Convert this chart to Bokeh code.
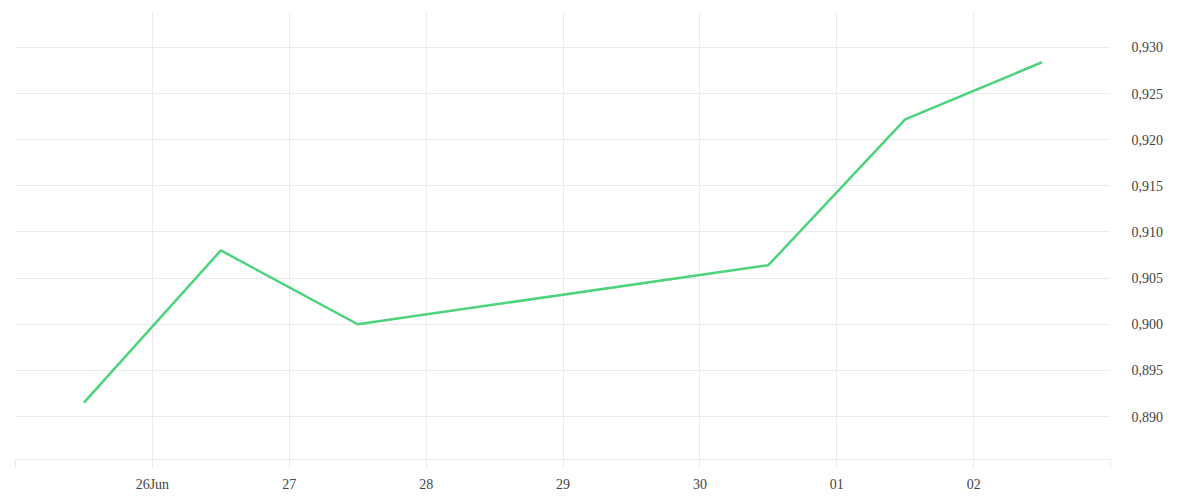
from datetime import datetime
from bokeh.plotting import figure
from bokeh.models import FixedTicker, Range1d, LinearAxis, ColumnDataSource
from bokeh.embed import file_html
from bokeh.resources import INLINE

# ---- data ----
dates = ["2025-06-25 12:00", "2025-06-26 12:00", "2025-06-27 12:00",
         "2025-06-30 12:00", "2025-07-01 12:00", "2025-07-02 12:00"]
values = [0.8915, 0.9080, 0.9000, 0.9064, 0.9222, 0.9284]

x_tick_dates = ["2025-06-25", "2025-06-26", "2025-06-27", "2025-06-28", "2025-06-29",
                "2025-06-30", "2025-07-01", "2025-07-02", "2025-07-03"]
x_tick_labels = ["", "26Jun", "27", "28", "29", "30", "01", "02", ""]

y_ticks = [0.890, 0.895, 0.900, 0.905, 0.910, 0.915, 0.920, 0.925, 0.930]
y_tick_labels = ["0,890", "0,895", "0,900", "0,905", "0,910", "0,915", "0,920", "0,925", "0,930"]


def ms(s):
    fmt = "%Y-%m-%d %H:%M" if " " in s else "%Y-%m-%d"
    return int((datetime.strptime(s, fmt) - datetime(1970, 1, 1)).total_seconds() * 1000)


xs = [ms(d) for d in dates]
xticks = [ms(d) for d in x_tick_dates]

FONT = "Liberation Serif"
GRID = "#ebebeb"
LABEL = "#444444"

p = figure(frame_width=1095, frame_height=447,
           x_axis_type="datetime", y_axis_location=None,
           output_backend="svg", toolbar_location=None,
           min_border_left=15, min_border_top=12, min_border_right=75, min_border_bottom=30)
p.outline_line_color = None
p.background_fill_color = "white"
p.border_fill_color = "white"

p.x_range = Range1d(xticks[0], xticks[-1])
p.y_range = Range1d(0.88534, 0.93379)

src = ColumnDataSource(dict(x=xs, y=values))
p.line("x", "y", source=src, line_color="#4cd37b", line_width=2.5)

# x axis
xa = p.xaxis[0]
xa.ticker = FixedTicker(ticks=xticks)
xa.major_label_overrides = {t: l for t, l in zip(xticks, x_tick_labels)}
xa.axis_line_color = GRID
xa.major_tick_line_color = GRID
xa.major_tick_in = 0
xa.major_tick_out = 9
xa.minor_tick_line_color = None
xa.major_label_text_font = FONT
xa.major_label_text_font_size = "14px"
xa.major_label_text_color = LABEL
xa.major_label_standoff = 8

# y axis on the right
ya = LinearAxis(ticker=FixedTicker(ticks=y_ticks))
ya.major_label_overrides = {t: l for t, l in zip(y_ticks, y_tick_labels)}
ya.axis_line_color = None
ya.major_tick_line_color = None
ya.minor_tick_line_color = None
ya.major_label_text_font = FONT
ya.major_label_text_font_size = "14px"
ya.major_label_text_color = LABEL
ya.major_label_standoff = 15
p.add_layout(ya, "right")

p.xgrid.ticker = FixedTicker(ticks=xticks)
p.xgrid.grid_line_color = GRID
p.ygrid.ticker = FixedTicker(ticks=y_ticks)
p.ygrid.grid_line_color = GRID

open("out.html", "w").write(file_html(p, INLINE))
